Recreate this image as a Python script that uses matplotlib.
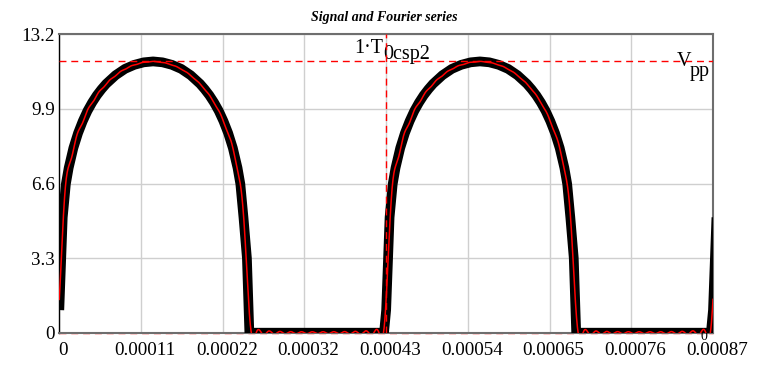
import numpy as np
import matplotlib
matplotlib.use("Agg")
import matplotlib.pyplot as plt
from matplotlib.transforms import ScaledTranslation

# ---- data -------------------------------------------------------------
T0 = 0.000433          # period T_0csp2 [s]
V_PP = 12.0            # peak level V_pp
N_HARM = 30            # harmonics kept in the Fourier series

# one period of the signal: phase (t / T0) and value
phase = [0.0000, 0.0105, 0.0201, 0.0287, 0.04305, 0.0574, 0.07175, 0.0861,
         0.10045, 0.1148, 0.12915, 0.1435, 0.1722, 0.2009, 0.2296, 0.2583,
         0.2870,
         0.3157, 0.3444, 0.3731, 0.4018, 0.4305, 0.44485, 0.4592, 0.47355,
         0.4879, 0.50225, 0.5166, 0.53095, 0.5453, 0.5539, 0.5635,
         0.5740, 0.5815, 0.7000, 0.8500, 0.9935]
volts = [1.0, 5.1, 6.58, 7.29, 8.17, 8.83, 9.36, 9.81,
         10.18, 10.50, 10.77, 11.01, 11.39, 11.67, 11.85, 11.96,
         12.0,
         11.96, 11.85, 11.67, 11.39, 11.01, 10.77, 10.50, 10.18,
         9.81, 9.36, 8.83, 8.17, 7.29, 6.58, 5.1,
         3.3, 0.0, 0.0, 0.0, 0.0]

x_tick_labels = ["0", "0.00011", "0.00022", "0.00032", "0.00043",
                 "0.00054", "0.00065", "0.00076", "0.00087"]
y_ticks = [0.0, 3.3, 6.6, 9.9, 13.2]
y_tick_labels = ["0", "3.3", "6.6", "9.9", "13.2"]

# ---- signal over two periods (plus start of the third) -----------------
ph = np.array(phase)
t_sig = np.concatenate([ph * T0, (ph + 1) * T0, [2 * T0, (2 + ph[1]) * T0]])
v_sig = np.concatenate([volts, volts, [volts[0], volts[1]]])

# ---- truncated Fourier series of the periodic signal ------------------
M = 8192
grid = np.arange(M) / M
one_period = np.interp(grid, ph, volts, period=1.0)
coef = np.fft.rfft(one_period) / M
t_fs = np.linspace(0, 2 * T0, 3000)
series = np.full_like(t_fs, coef[0].real)
for k in range(1, N_HARM + 1):
    w = 2 * np.pi * k * t_fs / T0
    series += 2 * (coef[k].real * np.cos(w) - coef[k].imag * np.sin(w))

# ---- figure -------------------------------------------------------------
plt.rcParams["font.family"] = ["Liberation Serif", "DejaVu Serif"]
W, H = 769, 366
fig = plt.figure(figsize=(W / 100, H / 100), dpi=100)
left, right, top, bottom = 59.3, 713.0, 34.3, 332.7
ax = fig.add_axes([left / W, 1 - bottom / H, (right - left) / W, (bottom - top) / H])

xmax = 2 * T0
x_ticks = np.linspace(0, xmax, len(x_tick_labels))
ax.set_xlim(0, xmax)
ax.set_ylim(y_ticks[0], y_ticks[-1])
ax.set_xticks(x_ticks)
ax.set_xticklabels(x_tick_labels)
ax.set_yticks(y_ticks)
ax.set_yticklabels(y_tick_labels)
ax.tick_params(axis="both", length=0, labelsize=13.7)
ax.tick_params(axis="x", pad=7)
ax.tick_params(axis="y", pad=3)
for lab in ax.get_xticklabels():
    lab.set_transform(lab.get_transform() + ScaledTranslation(4 / 100, 0, fig.dpi_scale_trans))

ax.grid(True, color="#cfcfcf", linewidth=1.0)
ax.set_axisbelow(True)

for side in ("top", "right", "bottom"):
    ax.spines[side].set_color("#6e6e6e")
    ax.spines[side].set_linewidth(1.5)
ax.spines["left"].set_color("black")
ax.spines["left"].set_linewidth(1.0)

# signal (thick black) and its Fourier series (thin red)
ax.plot(t_sig, v_sig, color="black", linewidth=7.0,
        solid_capstyle="butt", solid_joinstyle="round", zorder=3)
ax.plot(t_fs, series, color="#ff0000", linewidth=1.1, zorder=4)

# markers
dash = (0, (5, 3.5))
ax.axhline(V_PP, color="#ff0000", linewidth=1.0, linestyle=dash, zorder=5)
ax.axhline(0.0, color="#ff0000", linewidth=1.0, linestyle=dash, zorder=2, clip_on=False)
ax.axvline(1 * T0, color="#ff0000", linewidth=1.0, linestyle=dash, zorder=5)

fs = 14.5
ax.annotate("1\u00b7T", xy=(T0, 1), xycoords=("data", "axes fraction"),
            xytext=(-3, -18.7), textcoords="offset pixels",
            ha="right", va="baseline", fontsize=fs)
ax.annotate("0csp2", xy=(T0, 1), xycoords=("data", "axes fraction"),
            xytext=(-3.3, -24.7), textcoords="offset pixels",
            ha="left", va="baseline", fontsize=fs)
ax.annotate("V", xy=(1, V_PP), xycoords=("axes fraction", "data"),
            xytext=(-36, -4.2), textcoords="offset pixels",
            ha="left", va="baseline", fontsize=fs)
ax.annotate("pp", xy=(1, V_PP), xycoords=("axes fraction", "data"),
            xytext=(-23, -14.7), textcoords="offset pixels",
            ha="left", va="baseline", fontsize=fs)
ax.annotate("0", xy=(1, 0), xycoords=("axes fraction", "data"),
            xytext=(-9, -7), textcoords="offset pixels",
            ha="center", va="baseline", fontsize=10)

fig.text(384.5 / W, 1 - 21 / H, "Signal and Fourier series", ha="center",
         va="baseline", fontsize=10, fontweight="bold", fontstyle="italic")

fig.savefig("out.png", dpi=100)
